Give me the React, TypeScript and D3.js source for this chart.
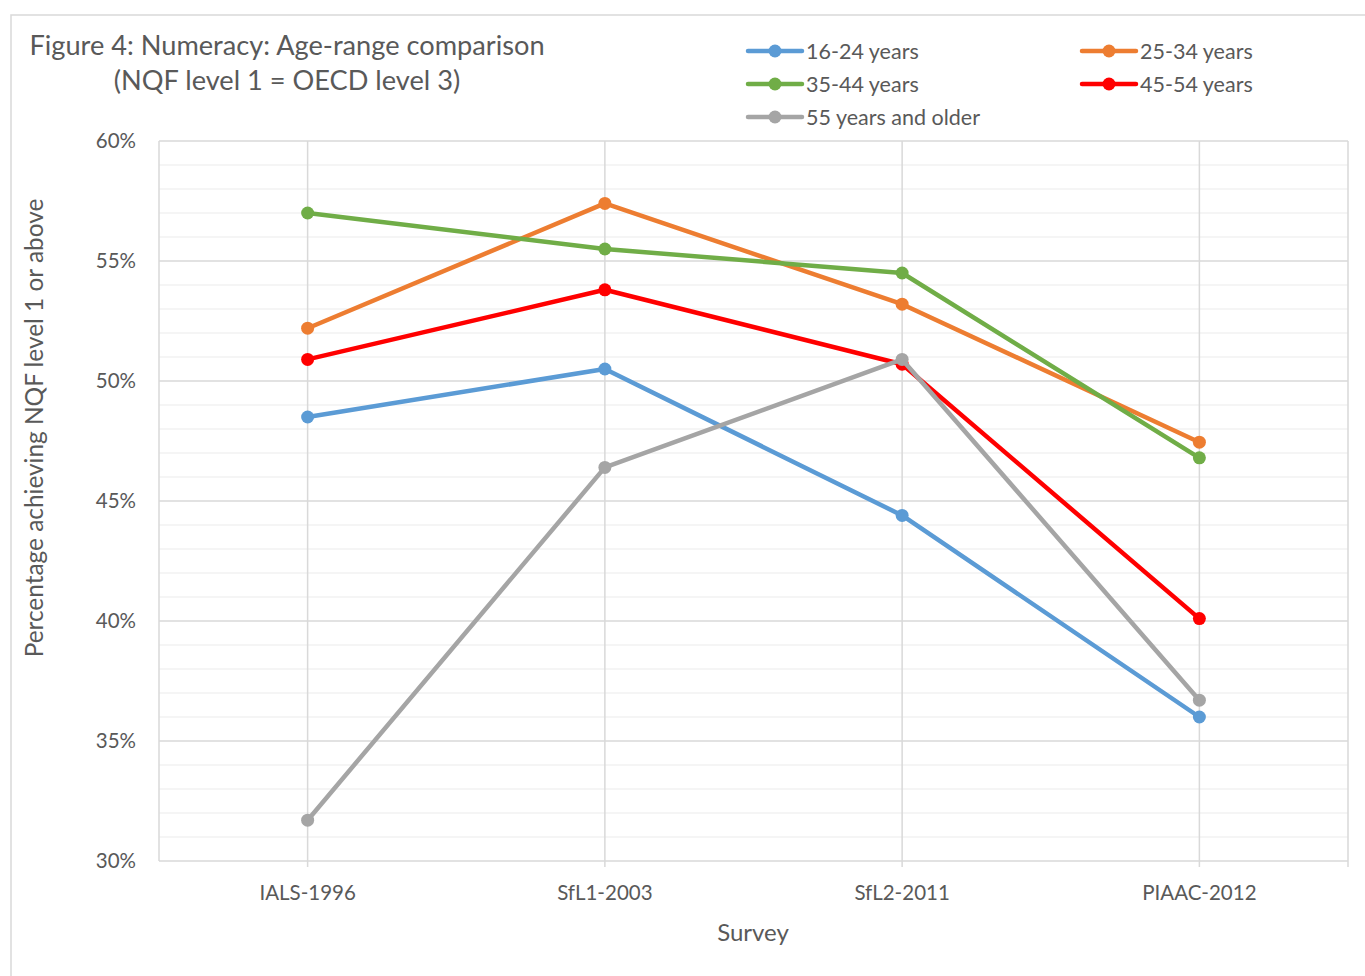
import React from "react";
import * as d3 from "d3";

const categories = ["IALS-1996", "SfL1-2003", "SfL2-2011", "PIAAC-2012"];
const seriesNames = ["16-24 years", "25-34 years", "35-44 years", "45-54 years", "55 years and older"];
const seriesColors = ["#5B9BD5", "#ED7D31", "#70AD47", "#FF0000", "#A5A5A5"];
const v1624 = [48.5, 50.5, 44.4, 36.0];
const v2534 = [52.2, 57.4, 53.2, 47.45];
const v3544 = [57.0, 55.5, 54.5, 46.8];
const v4554 = [50.9, 53.8, 50.7, 40.1];
const v55 = [31.7, 46.4, 50.9, 36.7];
const seriesValues = [v1624, v2534, v3544, v4554, v55];
const majorTicks = [30, 35, 40, 45, 50, 55, 60];

const W = 1365, H = 976;
const m = { left: 159, right: 1348, top: 141, bottom: 861 };
const font = "Lato, 'Open Sans', sans-serif";
const textColor = "#595959";

export default function App() {
  const x = d3.scaleBand<string>().domain(categories).range([m.left, m.right]);
  const y = d3.scaleLinear().domain([30, 60]).range([m.bottom, m.top]);
  const minor = d3.range(30, 61, 1).filter((t) => t % 5 !== 0);
  const line = d3.line<number>().x((_, i) => x(categories[i])! + x.bandwidth() / 2).y((d) => y(d));
  const legendPos = [
    [748, 51], [1082, 51], [748, 84], [1082, 84], [748, 117],
  ];
  return (
    <svg width={W} height={H} style={{ position: "absolute", left: 0, top: 0, background: "#fff" }}>
      <rect x={0} y={0} width={W} height={H} fill="#fff" />
      <path d={`M11,${H} V15 H${W}`} fill="none" stroke="#d9d9d9" strokeWidth={1.5} />
      <text x={287} y={55} textAnchor="middle" fontFamily={font} fontSize={27.2} fill={textColor}>
        Figure 4: Numeracy: Age-range comparison
      </text>
      <text x={287} y={90} textAnchor="middle" fontFamily={font} fontSize={27.2} fill={textColor}>
        (NQF level 1 = OECD level 3)
      </text>
      {minor.map((t) => (
        <line key={"mi" + t} x1={m.left} x2={m.right} y1={y(t)} y2={y(t)} stroke="#f2f2f2" strokeWidth={1.5} />
      ))}
      {majorTicks.map((t) => (
        <line key={"ma" + t} x1={m.left} x2={m.right} y1={y(t)} y2={y(t)} stroke="#d9d9d9" strokeWidth={1.5} />
      ))}
      {categories.map((c) => (
        <line key={"v" + c} x1={x(c)! + x.bandwidth() / 2} x2={x(c)! + x.bandwidth() / 2} y1={m.top} y2={m.bottom + 6} stroke="#d9d9d9" strokeWidth={1.5} />
      ))}
      <line x1={m.left} x2={m.left} y1={m.top} y2={m.bottom} stroke="#d9d9d9" strokeWidth={1.5} />
      <line x1={m.right} x2={m.right} y1={m.top} y2={m.bottom + 6} stroke="#d9d9d9" strokeWidth={1.5} />
      {majorTicks.map((t) => (
        <text key={"yt" + t} x={136} y={y(t) + 7} textAnchor="end" fontFamily={font} fontSize={20.5} fill={textColor}>
          {t}%
        </text>
      ))}
      {categories.map((c) => (
        <text key={"xt" + c} x={x(c)! + x.bandwidth() / 2} y={900} textAnchor="middle" fontFamily={font} fontSize={20.5} fill={textColor}>
          {c}
        </text>
      ))}
      <text x={753} y={941} textAnchor="middle" fontFamily={font} fontSize={24} fill={textColor}>Survey</text>
      <text transform={`translate(43,428) rotate(-90)`} textAnchor="middle" fontFamily={font} fontSize={24.4} fill={textColor}>
        Percentage achieving NQF level 1 or above
      </text>
      {seriesValues.map((vals, si) => (
        <g key={"s" + si}>
          <path d={line(vals)!} fill="none" stroke={seriesColors[si]} strokeWidth={4.5} strokeLinejoin="round" />
          {vals.map((v, i) => (
            <circle key={i} cx={x(categories[i])! + x.bandwidth() / 2} cy={y(v)} r={6.5} fill={seriesColors[si]} />
          ))}
        </g>
      ))}
      {seriesNames.map((n, si) => (
        <g key={"lg" + si} transform={`translate(${legendPos[si][0]},${legendPos[si][1]})`}>
          <line x1={0} x2={54} y1={0} y2={0} stroke={seriesColors[si]} strokeWidth={4.5} strokeLinecap="round" />
          <circle cx={27} cy={0} r={6.5} fill={seriesColors[si]} />
          <text x={58} y={7.5} fontFamily={font} fontSize={21.5} fill={textColor}>{n}</text>
        </g>
      ))}
    </svg>
  );
}
